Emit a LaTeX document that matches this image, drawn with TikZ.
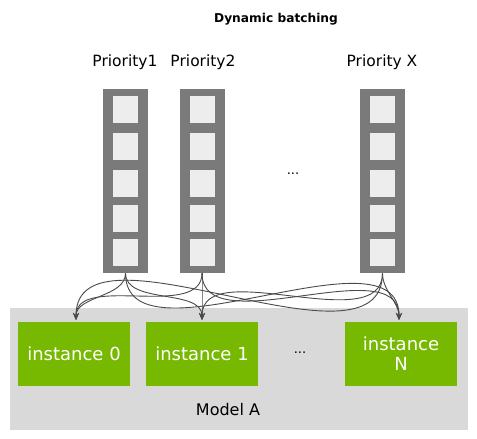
\documentclass[tikz,border=0pt]{standalone}
\usepackage{fontspec}
\setmainfont{DejaVu Sans}
\usetikzlibrary{arrows.meta}
\definecolor{qgray}{HTML}{7A7A7A}
\definecolor{cellgray}{HTML}{EDEDED}
\definecolor{nvgreen}{HTML}{76B900}
\definecolor{bggray}{HTML}{D9D9D9}
\definecolor{arrgray}{HTML}{4A4A4A}
\tikzset{
  queue/.style={fill=qgray, draw=none, minimum width=45pt, minimum height=184pt, inner sep=0pt},
  cell/.style={fill=cellgray, draw=none, minimum width=25pt, minimum height=27pt, inner sep=0pt},
  inst/.style={fill=nvgreen, draw=none, minimum width=112pt, minimum height=64pt, inner sep=0pt, text=white, font=\fontsize{18}{20}\selectfont, align=center},
  lbl/.style={font=\fontsize{15.5}{17}\selectfont, text=black},
  conn/.style={draw=arrgray, line width=0.9pt, -{Stealth[length=7pt,width=6pt]}, out=-90, in=90, looseness=0.9},
}
\begin{document}
\begin{tikzpicture}[x=1pt,y=-1pt]
\useasboundingbox[fill=white] (0,0) rectangle (477,439);
\node[font=\bfseries\fontsize{12.2}{14}\selectfont] (title) at (276,19) {Dynamic batching};
\node[lbl] (p1) at (125,62) {Priority1};
\node[lbl] (p2) at (203,62) {Priority2};
\node[lbl] (px) at (382,62) {Priority X};
% background
\node[fill=bggray, minimum width=458pt, minimum height=122pt, inner sep=0pt] (bg) at (239,369) {};
% queues
\foreach \n/\x in {q1/125.5, q2/202, qx/382.5}{
  \node[queue] (\n) at (\x,181) {};
  \foreach \i/\y in {1/109.5,2/146.5,3/183,4/218.5,5/252}{
    \node[cell] (\n c\i) at (\x,\y) {};
  }
}
\node[font=\fontsize{13}{14}\selectfont] (dots1) at (293,174) {...};
% instances
\node[inst] (i0) at (74,354) {instance 0};
\node[inst] (i1) at (202,354) {instance 1};
\node[inst] (iN) at (401,354) {instance\\N};
\node[font=\fontsize{13}{14}\selectfont] (dots2) at (300,353) {...};
\node[font=\fontsize{16}{18}\selectfont] (model) at (228,410) {Model A};
% connectors
\coordinate (t0) at (76,320);
\coordinate (t1) at (202,320);
\coordinate (tN) at (399,320);
\foreach \q in {q1,q2,qx}{
  \draw[conn] (\q.south) to (t0);
  \draw[conn] (\q.south) to (t1);
  \draw[conn] (\q.south) to (tN);
}
\end{tikzpicture}
\end{document}
